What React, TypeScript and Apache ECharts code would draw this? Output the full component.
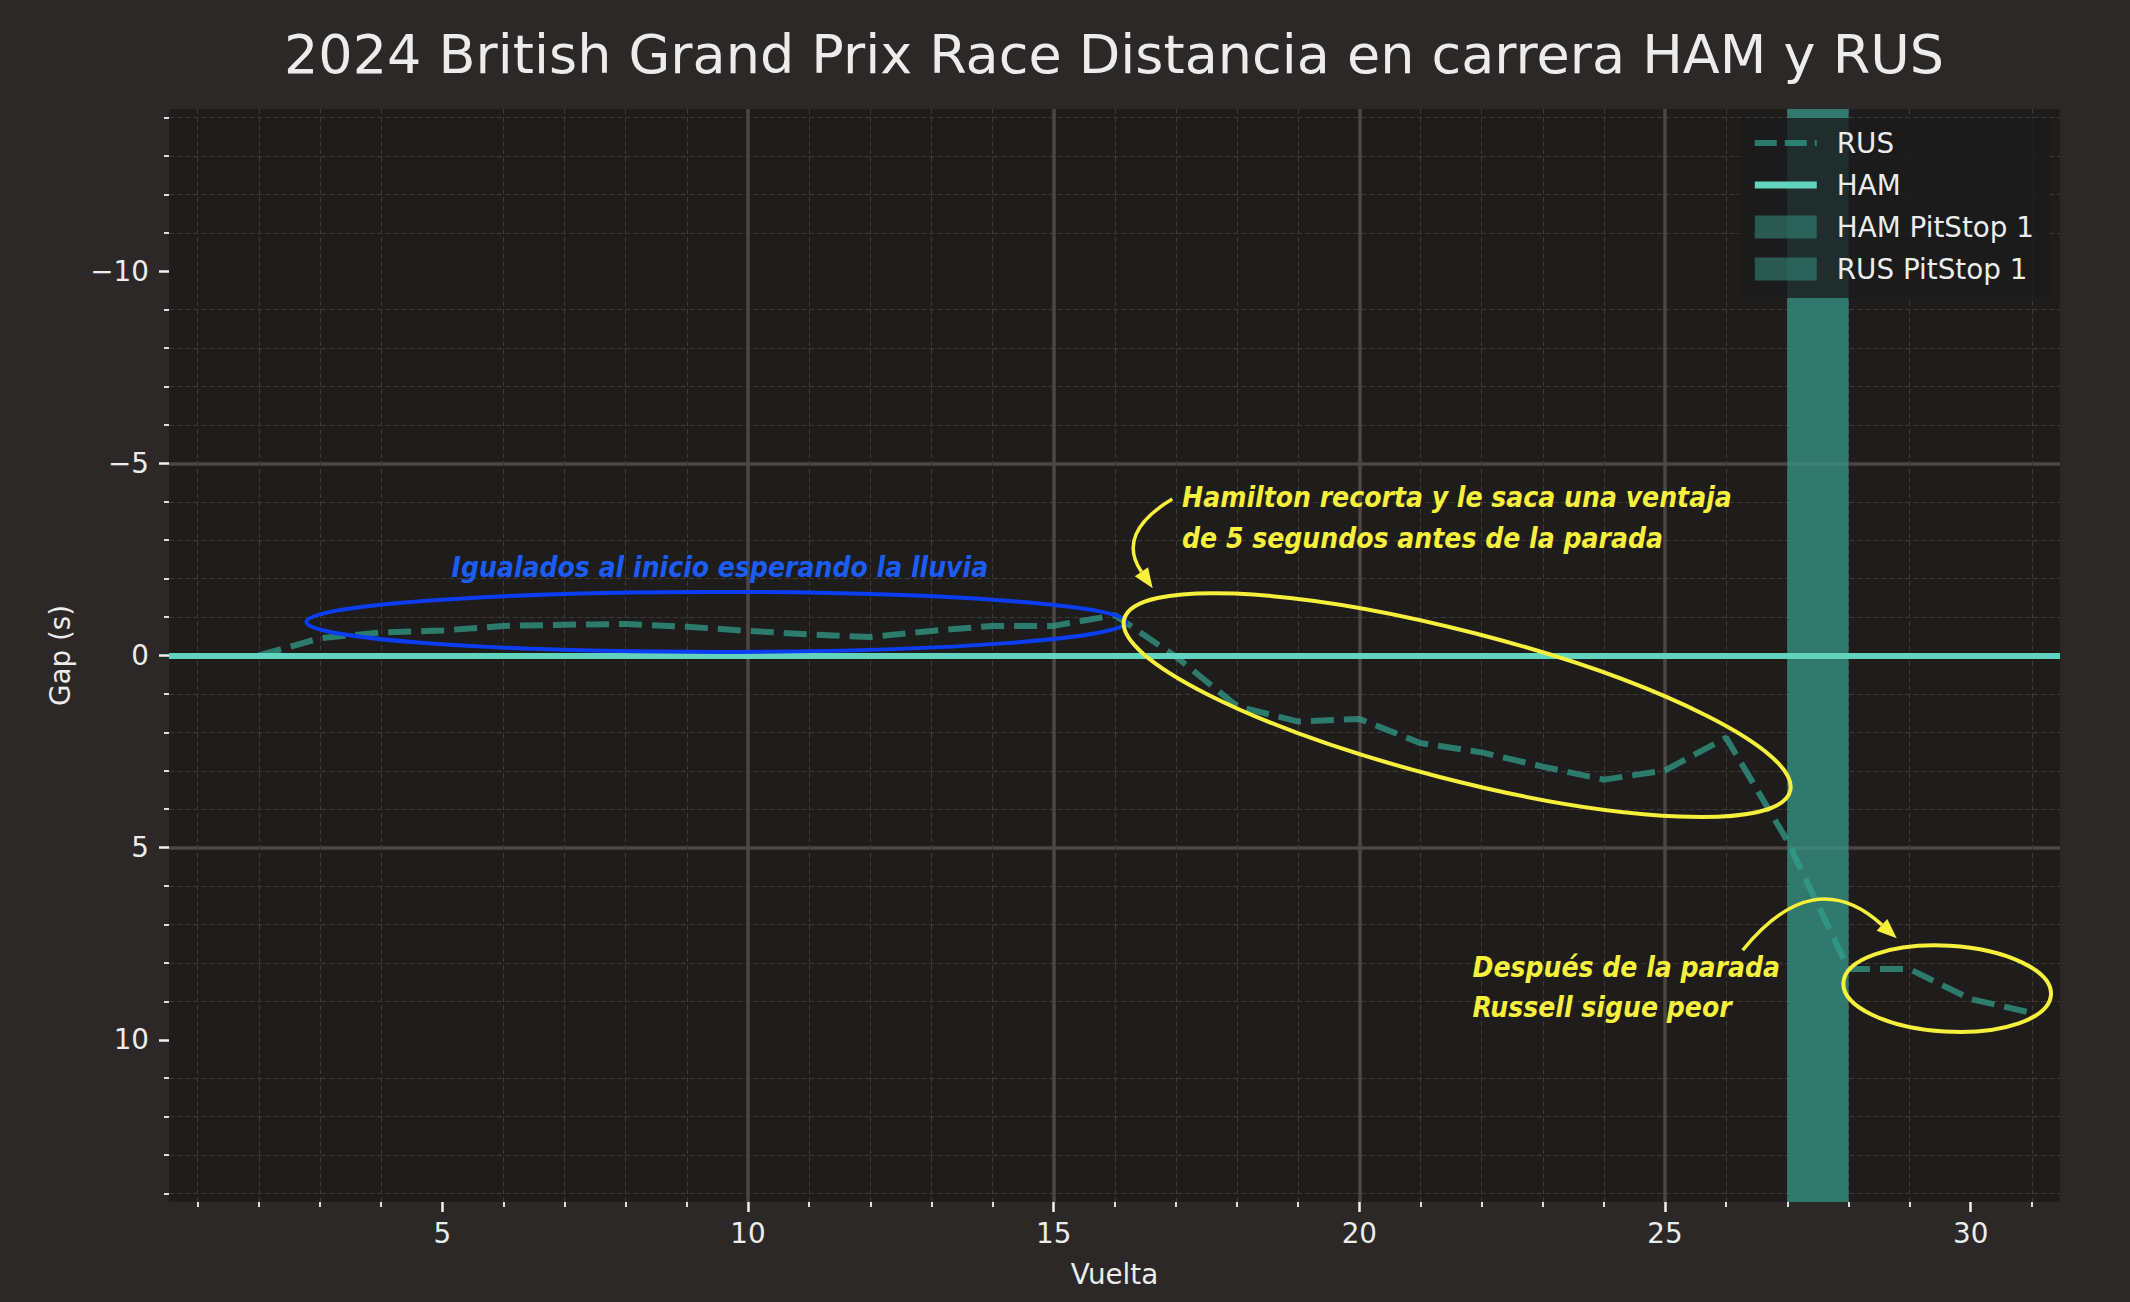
import React, { useEffect, useRef } from 'react';
import * as echarts from 'echarts';

// ---------- data ----------
const TITLE = '2024 British Grand Prix Race Distancia en carrera HAM y RUS';
const X_NAME = 'Vuelta';
const Y_NAME = 'Gap (s)';

const laps = [2, 3, 4, 5, 6, 7, 8, 9, 10, 11, 12, 13, 14, 15, 16, 17, 18, 19, 20, 21, 22, 23, 24, 25, 26, 27, 28, 29, 30, 31];
const rusGap = [0.0, -0.45, -0.6, -0.65, -0.77, -0.8, -0.82, -0.75, -0.64, -0.55, -0.48, -0.64, -0.77, -0.77, -1.05, 0.03, 1.32, 1.72, 1.65, 2.28, 2.52, 2.89, 3.23, 2.99, 2.14, 4.82, 8.16, 8.16, 8.94, 9.3];
const hamGap = 0; // reference driver
const hamPitStop1 = [27, 28];
const rusPitStop1 = [27, 28];

const xTicks = [5, 10, 15, 20, 25, 30];
const yTicks = [-10, -5, 0, 5, 10];
const xRange = [0.53, 31.46];
const yRange = [-14.22, 14.22];

// annotations (anchors in data units)
const blueText = { text: 'Igualados al inicio esperando la lluvia', x: 9.54, y: -2.3 };
const blueEllipse = { x: 9.483, y: -0.874, rx: 410, ry: 30, rot: 0 };
const hamText = [
  { text: 'Hamilton recorta y le saca una ventaja', x: 17.1, y: -4.11 },
  { text: 'de 5 segundos antes de la parada', x: 17.1, y: -3.05 },
];
const hamEllipse = { x: 21.6, y: 1.29, rx: 344, ry: 74, rot: -0.2527 };
const hamArrow = { from: [16.94, -4.07], to: [16.62, -1.75], rad: -0.53 };
const rusText = [
  { text: 'Después de la parada', x: 21.85, y: 8.13 },
  { text: 'Russell sigue peor', x: 21.85, y: 9.15 },
];
const rusEllipse = { x: 29.615, y: 8.67, rx: 104, ry: 43, rot: -0.058 };
const rusArrow = { from: [26.27, 7.67], to: [28.79, 7.36], rad: 0.53 };

// ---------- styles ----------
const BG = '#2b2827';
const PLOT_BG = '#1e1d1c';
const TEXT = '#ececec';
const HAM_COLOR = '#60d4bc';
const RUS_COLOR = 'rgba(50,160,140,0.72)';
const PIT_COLOR = 'rgba(56,152,136,0.5)';
const BLUE = '#0b3df5';
const BLUE_TEXT = '#1b5cf6';
const YELLOW = '#f6ef3b';
const FONT = '"DejaVu Sans", sans-serif';
const ANNOT_FONT = '"Liberation Sans Narrow", "DejaVu Sans Condensed", "Roboto Condensed", "Noto Sans", sans-serif';

const fmtMinus = (v: number) => (v < 0 ? '\u2212' + Math.abs(v) : String(v));

function axisCommon(ticks: number[]) {
  return {
    type: 'value',
    splitNumber: 6,
    axisLine: { show: false, onZero: false },
    axisTick: { show: true, length: 10, customValues: ticks, lineStyle: { color: '#f2f2f2', width: 2.5 } },
    minorTick: { show: true, splitNumber: 5, length: 5, lineStyle: { color: '#f2f2f2', width: 1.8 } },
    splitLine: { show: true, showMinLine: false, showMaxLine: false, lineStyle: { color: '#4d4643', width: 3.5 } },
    minorSplitLine: { show: true, lineStyle: { color: '#3d3a38', width: 1, type: [5, 3] } },
    nameLocation: 'middle',
    nameTextStyle: { color: TEXT, fontSize: 27.8, fontFamily: FONT },
  };
}

export default function App() {
  const ref = useRef<HTMLDivElement>(null);
  useEffect(() => {
    const chart = echarts.init(ref.current!, null, { renderer: 'svg' });
    const pitMark = (span: number[]) => ({
      silent: true,
      itemStyle: { color: PIT_COLOR },
      data: [[{ xAxis: span[0] }, { xAxis: span[1] }]],
    });
    const option: any = {
      animation: false,
      backgroundColor: BG,
      title: {
        text: TITLE,
        left: 1114,
        textAlign: 'center',
        top: 27,
        padding: 0,
        textStyle: { color: TEXT, fontSize: 54, fontWeight: 'normal', fontFamily: FONT },
      },
      grid: { left: 169, right: 70, top: 109, bottom: 100, show: true, backgroundColor: PLOT_BG, borderWidth: 0 },
      legend: {
        orient: 'vertical',
        right: 80,
        top: 118,
        padding: [10, 16, 14, 12],
        backgroundColor: 'rgba(28,28,27,0.8)',
        borderRadius: 4,
        itemWidth: 62,
        itemHeight: 23,
        itemGap: 12,
        textStyle: { color: TEXT, fontSize: 27.8, fontFamily: FONT, lineHeight: 30, padding: [0, 0, 0, 15] },
        data: [
          { name: 'RUS', itemStyle: { opacity: 0 }, lineStyle: { width: 6, type: [22, 8] } },
          { name: 'HAM', itemStyle: { opacity: 0 }, lineStyle: { width: 7, type: 'solid' } },
          { name: 'HAM PitStop 1', icon: 'rect', itemStyle: { color: PIT_COLOR } },
          { name: 'RUS PitStop 1', icon: 'rect', itemStyle: { color: PIT_COLOR } },
        ],
      },
      xAxis: {
        ...axisCommon(xTicks),
        min: xRange[0],
        max: xRange[1],
        axisLabel: { customValues: xTicks, margin: 17, color: TEXT, fontSize: 27.8, fontFamily: FONT },
        name: X_NAME,
        nameGap: 58,
      },
      yAxis: {
        ...axisCommon(yTicks),
        inverse: true,
        min: yRange[0],
        max: yRange[1],
        axisLabel: { customValues: yTicks, margin: 20, color: TEXT, fontSize: 27.8, fontFamily: FONT, formatter: fmtMinus },
        name: Y_NAME,
        nameGap: 95,
        nameRotate: 90,
      },
      series: [
        {
          name: 'RUS',
          type: 'line',
          data: laps.map((l, i) => [l, rusGap[i]]),
          symbol: 'none',
          itemStyle: { color: RUS_COLOR },
          lineStyle: { color: RUS_COLOR, width: 6, type: [23, 10] },
          z: 3,
        },
        {
          name: 'HAM',
          type: 'line',
          data: [],
          symbol: 'none',
          itemStyle: { color: HAM_COLOR },
          lineStyle: { color: HAM_COLOR, width: 6 },
          markLine: {
            silent: true,
            symbol: ['none', 'none'],
            label: { show: false },
            lineStyle: { color: HAM_COLOR, width: 6, type: 'solid' },
            data: [{ yAxis: hamGap }],
          },
          z: 4,
        },
        {
          name: 'HAM PitStop 1',
          type: 'line',
          data: [],
          symbol: 'none',
          itemStyle: { color: PIT_COLOR },
          lineStyle: { color: PIT_COLOR },
          markArea: pitMark(hamPitStop1),
          z: 1,
        },
        {
          name: 'RUS PitStop 1',
          type: 'line',
          data: [],
          symbol: 'none',
          itemStyle: { color: PIT_COLOR },
          lineStyle: { color: PIT_COLOR },
          markArea: pitMark(rusPitStop1),
          z: 1,
        },
      ],
    };
    chart.setOption(option);

    const toPx = (x: number, y: number) => chart.convertToPixel({ gridIndex: 0 }, [x, y]) as number[];
    const g: any[] = [];
    const ellipse = (e: any, color: string) => {
      const p = toPx(e.x, e.y);
      g.push({
        type: 'ellipse', x: p[0], y: p[1], rotation: e.rot, z: 100, silent: true,
        shape: { cx: 0, cy: 0, rx: e.rx, ry: e.ry },
        style: { fill: null, stroke: color, lineWidth: 4 },
      });
    };
    const text = (t: any, color: string, align: string) => {
      const p = toPx(t.x, t.y);
      g.push({
        type: 'text', x: p[0], y: p[1], z: 100, silent: true,
        style: {
          text: t.text, fill: color, fontSize: 28, fontWeight: 'bold', fontStyle: 'italic',
          fontFamily: ANNOT_FONT, align, verticalAlign: 'middle',
        },
      });
    };
    const arrow = (a: any) => {
      const s = toPx(a.from[0], a.from[1]);
      const e = toPx(a.to[0], a.to[1]);
      const dx = e[0] - s[0];
      const dy = e[1] - s[1];
      const cx = (s[0] + e[0]) / 2 + a.rad * dy;
      const cy = (s[1] + e[1]) / 2 - a.rad * dx;
      let tx = e[0] - cx;
      let ty = e[1] - cy;
      const len = Math.hypot(tx, ty);
      tx /= len; ty /= len;
      const L = 20, W = 8;
      const bx = e[0] - tx * L, by = e[1] - ty * L;
      g.push({
        type: 'bezierCurve', z: 100, silent: true,
        shape: { x1: s[0], y1: s[1], x2: bx, y2: by, cpx1: cx, cpy1: cy },
        style: { fill: null, stroke: YELLOW, lineWidth: 3.5 },
      });
      g.push({
        type: 'polygon', z: 101, silent: true,
        shape: { points: [[e[0], e[1]], [bx - ty * W, by + tx * W], [bx + ty * W, by - tx * W]] },
        style: { fill: YELLOW },
      });
    };

    ellipse(blueEllipse, BLUE);
    text(blueText, BLUE_TEXT, 'center');
    ellipse(hamEllipse, YELLOW);
    hamText.forEach((t) => text(t, YELLOW, 'left'));
    arrow(hamArrow);
    ellipse(rusEllipse, YELLOW);
    rusText.forEach((t) => text(t, YELLOW, 'left'));
    arrow(rusArrow);

    chart.setOption({ graphic: g });
    return () => chart.dispose();
  }, []);
  return <div ref={ref} style={{ position: 'fixed', left: 0, top: 0, width: 2130, height: 1302 }} />;
}
